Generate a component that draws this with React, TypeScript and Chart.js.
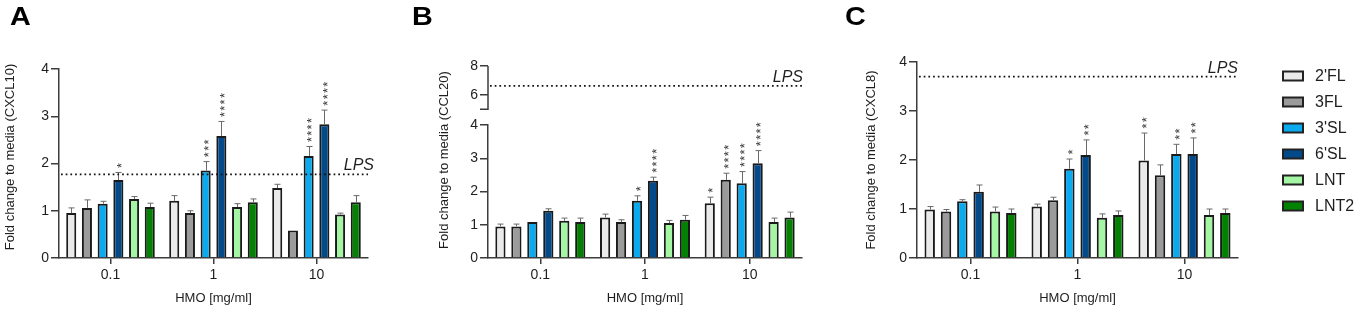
import React, { useEffect, useRef } from 'react';
import { Chart, registerables } from 'chart.js';

Chart.register(...registerables);

const FONT = "'Liberation Sans', Arial, Helvetica, sans-serif";
const AXIS = '#3c3c3c';
const TXT = '#1e1e1e';

// ---------- shared categories / series ----------
const doses = ['0.1', '1', '10'];
const hmoNames = ["2'FL", '3FL', "3'SL", "6'SL", 'LNT', 'LNT2'];
const hmoColors = ['#EAEAEA', '#9B9B9B', '#0BAAEE', '#034A8B', '#A4F6A4', '#028102'];

// ---------- Panel A: CXCL10 (rows = HMO, columns = dose) ----------
const cxcl10Mean = [
  [0.95, 1.21, 1.48],
  [1.06, 0.95, 0.58],
  [1.15, 1.85, 2.16],
  [1.65, 2.58, 2.83],
  [1.25, 1.08, 0.92],
  [1.08, 1.18, 1.18],
];
const cxcl10Err = [
  [0.11, 0.11, 0.08],
  [0.17, 0.05, 0.0],
  [0.05, 0.19, 0.2],
  [0.16, 0.31, 0.3],
  [0.05, 0.07, 0.03],
  [0.08, 0.07, 0.14],
];
const cxcl10Stars = [
  ['', '', ''],
  ['', '', ''],
  ['', '***', '****'],
  ['*', '****', '****'],
  ['', '', ''],
  ['', '', ''],
];
const cxcl10Lps = 1.77;
const cxcl10Ticks = [0, 1, 2, 3, 4];

// ---------- Panel B: CCL20 ----------
const ccl20Mean = [
  [0.95, 1.22, 1.65],
  [0.95, 1.08, 2.35],
  [1.08, 1.72, 2.25],
  [1.42, 2.32, 2.85],
  [1.12, 1.05, 1.08],
  [1.08, 1.15, 1.22],
];
const ccl20Err = [
  [0.07, 0.1, 0.18],
  [0.07, 0.07, 0.2],
  [0.0, 0.15, 0.35],
  [0.06, 0.11, 0.38],
  [0.08, 0.08, 0.12],
  [0.12, 0.13, 0.16],
];
const ccl20Stars = [
  ['', '', '*'],
  ['', '', '****'],
  ['', '*', '****'],
  ['', '****', '****'],
  ['', '', ''],
  ['', '', ''],
];
const ccl20Lps = 6.61;
const ccl20TicksLower = [0, 1, 2, 3, 4];
const ccl20TicksUpper = [6, 8];
const ccl20BreakEnd = 5;
const ccl20BreakMin = 3.88;

// ---------- Panel C: CXCL8 ----------
const cxcl8Mean = [
  [0.99, 1.05, 1.99],
  [0.95, 1.18, 1.69],
  [1.16, 1.82, 2.12],
  [1.35, 2.1, 2.12],
  [0.95, 0.82, 0.88],
  [0.92, 0.88, 0.92],
];
const cxcl8Err = [
  [0.06, 0.05, 0.56],
  [0.04, 0.06, 0.21],
  [0.03, 0.2, 0.2],
  [0.14, 0.31, 0.33],
  [0.09, 0.08, 0.12],
  [0.08, 0.08, 0.08],
];
const cxcl8Stars = [
  ['', '', '**'],
  ['', '', ''],
  ['', '*', '**'],
  ['', '**', '**'],
  ['', '', ''],
  ['', '', ''],
];
const cxcl8Lps = 3.7;
const cxcl8Ticks = [0, 1, 2, 3, 4];

// ---------- panel specification ----------
interface PanelSpec {
  letter: string;
  letterX: number;
  yTitle: string;
  yTitleX: number;
  yTitleY: number;
  mean: number[][];
  err: number[][];
  stars: string[][];
  lps: number;
  lpsScale: string;
  lpsDx: number;
  ticks: number[];
  upperTicks?: number[];
  breakEnd?: number;
  breakMin?: number;
  left: number;
  width: number;
  padding: { left: number; top: number; right: number; bottom: number };
  yWidth: number;
  legend: boolean;
}

function makePlugin(p: PanelSpec) {
  return {
    id: 'decor' + p.letter,
    afterDatasetsDraw(chart: any) {
      const ctx: CanvasRenderingContext2D = chart.ctx;
      const area = chart.chartArea;
      const yScale = chart.scales.y;

      // error bars + significance stars
      chart.data.datasets.forEach((_ds: any, i: number) => {
        const meta = chart.getDatasetMeta(i);
        meta.data.forEach((el: any, j: number) => {
          const v = p.mean[i][j];
          const e = p.err[i][j];
          const x = Math.round(el.x) + 0.5;
          const top = yScale.getPixelForValue(v + e);
          if (e > 0) {
            ctx.save();
            ctx.strokeStyle = '#6a6a6a';
            ctx.lineWidth = 1;
            ctx.beginPath();
            ctx.moveTo(x, el.y);
            ctx.lineTo(x, top);
            ctx.moveTo(x - 3, top);
            ctx.lineTo(x + 3, top);
            ctx.stroke();
            ctx.restore();
          }
          const s = p.stars[i][j];
          if (s) {
            const size = 13;
            ctx.save();
            ctx.fillStyle = '#333333';
            ctx.font = `${size}px ${FONT}`;
            ctx.textAlign = 'center';
            ctx.textBaseline = 'alphabetic';
            for (let k = 0; k < s.length; k++) {
              const cy = top - 7 - k * 6.3;
              ctx.save();
              ctx.translate(el.x, cy);
              ctx.rotate(-Math.PI / 2);
              ctx.fillText('*', 0, 0.58 * size);
              ctx.restore();
            }
            ctx.restore();
          }
        });
      });

      // LPS reference line
      const ly = chart.scales[p.lpsScale].getPixelForValue(p.lps);
      ctx.save();
      ctx.strokeStyle = '#111111';
      ctx.lineWidth = 1.7;
      ctx.setLineDash([1.7, 3.0]);
      ctx.beginPath();
      ctx.moveTo(area.left + 2, ly);
      ctx.lineTo(area.right, ly);
      ctx.stroke();
      ctx.setLineDash([]);
      ctx.fillStyle = TXT;
      ctx.font = `italic 16px ${FONT}`;
      ctx.textAlign = 'right';
      ctx.textBaseline = 'alphabetic';
      ctx.fillText('LPS', area.right + p.lpsDx, ly - 4);
      ctx.restore();
    },
    afterDraw(chart: any) {
      const ctx: CanvasRenderingContext2D = chart.ctx;
      const area = chart.chartArea;

      // panel letter
      ctx.save();
      ctx.fillStyle = '#000000';
      ctx.font = `bold 25px ${FONT}`;
      ctx.textAlign = 'left';
      ctx.textBaseline = 'alphabetic';
      ctx.translate(p.letterX, 25);
      ctx.scale(1.15, 1);
      ctx.fillText(p.letter, 0, 0);
      ctx.restore();

      // y axis title
      ctx.save();
      ctx.fillStyle = TXT;
      ctx.font = `13px ${FONT}`;
      ctx.textAlign = 'center';
      ctx.textBaseline = 'middle';
      ctx.translate(p.yTitleX, p.yTitleY);
      ctx.rotate(-Math.PI / 2);
      ctx.fillText(p.yTitle, 0, 0);
      ctx.restore();

      // upper segment of broken axis: line from break end to top, end tick at break
      if (p.upperTicks && chart.scales.yTop && p.breakEnd !== undefined) {
        const st = chart.scales.yTop;
        const ut = p.upperTicks;
        const y0 = Math.round(st.getPixelForValue(p.breakEnd)) + 0.25;
        const y1 = st.getPixelForValue(ut[ut.length - 1]);
        ctx.save();
        ctx.strokeStyle = AXIS;
        ctx.lineWidth = 1.5;
        ctx.beginPath();
        ctx.moveTo(area.left, y0);
        ctx.lineTo(area.left, y1);
        ctx.moveTo(area.left - 8, y0);
        ctx.lineTo(area.left + 0.75, y0);
        ctx.stroke();
        ctx.restore();
      }

      // legend
      if (p.legend) {
        const bx = area.right + 45;
        const by0 = area.top + 14;
        chart.data.datasets.forEach((ds: any, i: number) => {
          const cy = by0 + i * 26;
          ctx.save();
          ctx.fillStyle = ds.backgroundColor;
          ctx.fillRect(bx, cy - 4.5, 20, 9);
          ctx.strokeStyle = '#222222';
          ctx.lineWidth = 2;
          ctx.strokeRect(bx, cy - 4.5, 20, 9);
          ctx.fillStyle = TXT;
          ctx.font = `16px ${FONT}`;
          ctx.textAlign = 'left';
          ctx.textBaseline = 'middle';
          ctx.fillText(ds.label, bx + 32, cy + 1);
          ctx.restore();
        });
      }
    },
  };
}

function yAxisBase(ticks: number[], yWidth: number) {
  return {
    type: 'linear',
    position: 'left',
    afterBuildTicks: (s: any) => {
      s.ticks = ticks.map((v) => ({ value: v }));
    },
    afterFit: (s: any) => {
      s.width = yWidth;
    },
    grid: {
      display: true,
      drawOnChartArea: false,
      drawTicks: true,
      tickLength: 8,
      color: AXIS,
      lineWidth: 1.5,
    },
    border: { display: true, color: AXIS, width: 1.5 },
    ticks: { color: TXT, font: { size: 14, family: FONT }, padding: 2, autoSkip: false },
    title: { display: false },
  };
}

function makeConfig(p: PanelSpec): any {
  const datasets = hmoNames.map((name, i) => ({
    type: 'bar',
    label: name,
    data: p.mean[i],
    backgroundColor: hmoColors[i],
    borderColor: '#1a1a1a',
    borderWidth: 2,
    barPercentage: 0.64,
    categoryPercentage: 0.915,
    yAxisID: 'y',
  }));

  const scales: any = {
    x: {
      type: 'category',
      offset: true,
      grid: {
        display: true,
        drawOnChartArea: false,
        drawTicks: true,
        tickLength: 6,
        offset: false,
        color: AXIS,
        lineWidth: 1.5,
      },
      border: { display: true, color: AXIS, width: 1.5 },
      ticks: { color: TXT, font: { size: 14, family: FONT }, padding: 3, maxRotation: 0, autoSkip: false },
      title: {
        display: true,
        text: 'HMO [mg/ml]',
        color: TXT,
        font: { size: 13, family: FONT },
        padding: { top: 4, bottom: 4 },
      },
      afterFit: (s: any) => {
        s.height = 52;
      },
    },
  };

  if (p.upperTicks) {
    scales.y = {
      ...yAxisBase(p.ticks, p.yWidth),
      min: 0,
      max: 4,
      stack: 'broken',
      stackWeight: 133,
      weight: 1,
    };
    const upper = p.upperTicks;
    scales.yTop = {
      ...yAxisBase(upper, p.yWidth),
      min: p.breakMin,
      max: upper[upper.length - 1],
      stack: 'broken',
      stackWeight: 59,
      weight: 2,
      border: { display: false },
    };
  } else {
    scales.y = {
      ...yAxisBase(p.ticks, p.yWidth),
      min: p.ticks[0],
      max: p.ticks[p.ticks.length - 1],
    };
  }

  return {
    type: 'bar',
    data: { labels: doses, datasets },
    options: {
      responsive: false,
      maintainAspectRatio: false,
      animation: false,
      events: [],
      layout: { padding: p.padding },
      plugins: {
        legend: { display: false },
        tooltip: { enabled: false },
        title: { display: false },
      },
      scales,
    },
    plugins: [makePlugin(p)],
  };
}

const panels: PanelSpec[] = [
  {
    letter: 'A',
    letterX: 10,
    yTitle: 'Fold change to media (CXCL10)',
    yTitleX: 10,
    yTitleY: 157,
    mean: cxcl10Mean,
    err: cxcl10Err,
    stars: cxcl10Stars,
    lps: cxcl10Lps,
    lpsScale: 'y',
    lpsDx: 6,
    ticks: cxcl10Ticks,
    left: 0,
    width: 385,
    padding: { left: 0, top: 69, right: 17, bottom: 0 },
    yWidth: 59,
    legend: false,
  },
  {
    letter: 'B',
    letterX: 12,
    yTitle: 'Fold change to media (CCL20)',
    yTitleX: 44,
    yTitleY: 160,
    mean: ccl20Mean,
    err: ccl20Err,
    stars: ccl20Stars,
    lps: ccl20Lps,
    lpsScale: 'yTop',
    lpsDx: 1,
    ticks: ccl20TicksLower,
    upperTicks: ccl20TicksUpper,
    breakEnd: ccl20BreakEnd,
    breakMin: ccl20BreakMin,
    left: 400,
    width: 410,
    padding: { left: 32, top: 66, right: 8, bottom: 0 },
    yWidth: 56,
    legend: false,
  },
  {
    letter: 'C',
    letterX: 12,
    yTitle: 'Fold change to media (CXCL8)',
    yTitleX: 38,
    yTitleY: 160,
    mean: cxcl8Mean,
    err: cxcl8Err,
    stars: cxcl8Stars,
    lps: cxcl8Lps,
    lpsScale: 'y',
    lpsDx: 0,
    ticks: cxcl8Ticks,
    left: 833,
    width: 525,
    padding: { left: 28, top: 62, right: 120, bottom: 0 },
    yWidth: 56,
    legend: true,
  },
];

function Panel({ spec }: { spec: PanelSpec }) {
  const ref = useRef<HTMLCanvasElement>(null);
  useEffect(() => {
    const chart = new Chart(ref.current as HTMLCanvasElement, makeConfig(spec));
    return () => chart.destroy();
  }, [spec]);
  return (
    <div style={{ position: 'absolute', left: spec.left, top: 0, width: spec.width, height: 310 }}>
      <canvas ref={ref} width={spec.width} height={310} style={{ display: 'block' }} />
    </div>
  );
}

export default function App() {
  useEffect(() => {
    document.body.style.overflow = 'hidden';
  }, []);
  return (
    <div
      style={{
        position: 'absolute',
        left: 0,
        top: 0,
        width: 1358,
        height: 310,
        background: '#ffffff',
        overflow: 'hidden',
      }}
    >
      {panels.map((p) => (
        <Panel key={p.letter} spec={p} />
      ))}
    </div>
  );
}
